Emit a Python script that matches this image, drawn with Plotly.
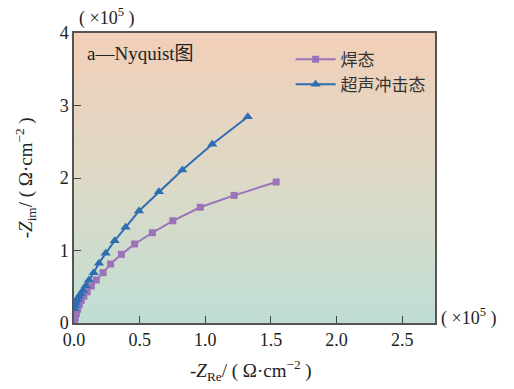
import plotly.graph_objects as go

# Data (units of 1e5 Ohm*cm^-2)
weld_x = [1.54, 1.22, 0.962, 0.753, 0.597, 0.462, 0.361, 0.279, 0.221, 0.170, 0.132, 0.100,
          0.075, 0.055, 0.040, 0.028, 0.018, 0.010, 0.004]
weld_y = [1.945, 1.76, 1.596, 1.41, 1.245, 1.09, 0.947, 0.814, 0.694, 0.593, 0.51, 0.43,
          0.37, 0.31, 0.25, 0.19, 0.13, 0.07, 0.02]
usp_x = [1.324, 1.053, 0.825, 0.647, 0.495, 0.393, 0.310, 0.241, 0.190, 0.150, 0.114, 0.089,
         0.068, 0.050, 0.036, 0.024, 0.014, 0.006, 0.001]
usp_y = [2.846, 2.465, 2.11, 1.81, 1.545, 1.32, 1.135, 0.961, 0.823, 0.694, 0.593, 0.51,
         0.45, 0.40, 0.36, 0.32, 0.28, 0.24, 0.20]
series_names = ["焊态", "超声冲击态"]
x_ticks = [0.0, 0.5, 1.0, 1.5, 2.0, 2.5]
x_ticklabels = ["0.0", "0.5", "1.0", "1.5", "2.0", "2.5"]
y_ticks = [0, 1, 2, 3, 4]

SERIF = "Liberation Serif, Times New Roman, serif"
CJK = "Liberation Serif, Noto Sans CJK SC, serif"

fig = go.Figure()
fig.add_trace(go.Scatter(x=weld_x, y=weld_y, mode="lines+markers", name=series_names[0],
                         line=dict(color="#9B73B8", width=2),
                         marker=dict(symbol="square", size=7, color="#9B73B8")))
fig.add_trace(go.Scatter(x=usp_x, y=usp_y, mode="lines+markers", name=series_names[1],
                         line=dict(color="#2F6DB3", width=2),
                         marker=dict(symbol="triangle-up", size=9, color="#2F6DB3")))

# gradient background strips
top = (242, 207, 184)
mid = (221, 217, 198)
bot = (192, 222, 212)
N = 60
shapes = []
for i in range(N):
    t = i / (N - 1)  # 0 bottom -> 1 top
    if t < 0.5:
        a, b, u = bot, mid, t / 0.5
    else:
        a, b, u = mid, top, (t - 0.5) / 0.5
    c = tuple(int(round(a[k] + (b[k] - a[k]) * u)) for k in range(3))
    shapes.append(dict(type="rect", xref="x domain", yref="y domain",
                       x0=0, x1=1, y0=i / N, y1=(i + 1) / N + 0.002,
                       fillcolor="rgb(%d,%d,%d)" % c, line=dict(width=0), layer="below"))

fig.update_layout(
    width=514, height=389,
    margin=dict(l=74, r=79, t=33, b=66),
    paper_bgcolor="white", plot_bgcolor="white",
    shapes=shapes,
    showlegend=True,
    legend=dict(x=0.6, y=0.97, xanchor="left", yanchor="top",
                bgcolor="rgba(0,0,0,0)", font=dict(family=CJK, size=17, color="#333"),
                itemwidth=40, tracegroupgap=0),
    font=dict(family=SERIF, color="#222"),
)
fig.update_xaxes(range=[0, 2.75], tickvals=x_ticks, ticktext=x_ticklabels,
                 ticks="inside", ticklen=7, tickcolor="#444", showgrid=False, zeroline=False,
                 showline=True, linecolor="#555", linewidth=1.5, mirror=True,
                 tickfont=dict(family=SERIF, size=18, color="#222"))
fig.update_yaxes(range=[0, 4], tickvals=y_ticks,
                 ticks="inside", ticklen=7, tickcolor="#444", showgrid=False, zeroline=False,
                 showline=True, linecolor="#555", linewidth=1.5, mirror=True,
                 tickfont=dict(family=SERIF, size=18, color="#222"))

fig.add_annotation(xref="paper", yref="paper", x=0.03, y=0.93, xanchor="left", yanchor="middle",
                   text="a—Nyquist图", showarrow=False,
                   font=dict(family=CJK, size=19, color="#222"))
fig.add_annotation(xref="paper", yref="paper", x=0.09, y=1.055, xanchor="center", yanchor="middle",
                   text="( ×10<sup>5</sup> )", showarrow=False,
                   font=dict(family=SERIF, size=18, color="#222"))
fig.add_annotation(xref="paper", yref="paper", x=1.01, y=0.02, xanchor="left", yanchor="middle",
                   text="( ×10<sup>5</sup> )", showarrow=False,
                   font=dict(family=SERIF, size=18, color="#222"))
fig.add_annotation(xref="paper", yref="paper", x=0.49, y=-0.165, xanchor="center", yanchor="middle",
                   text="-<i>Z</i><sub>Re</sub>/ ( Ω·cm<sup>−2</sup> )", showarrow=False,
                   font=dict(family=SERIF, size=19, color="#222"))
fig.add_annotation(xref="paper", yref="paper", x=-0.135, y=0.5, xanchor="center", yanchor="middle",
                   text="-<i>Z</i><sub>im</sub>/ ( Ω·cm<sup>−2</sup> )", showarrow=False, textangle=-90,
                   font=dict(family=SERIF, size=19, color="#222"))

fig.write_html("out.html")
